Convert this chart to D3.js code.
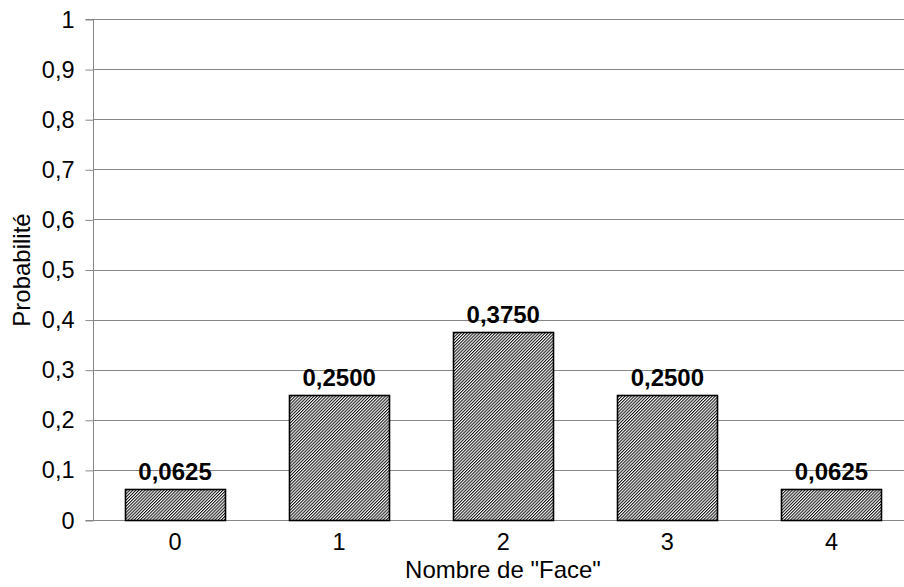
<!DOCTYPE html>
<html><head><meta charset="utf-8">
<script src="https://cdn.jsdelivr.net/npm/d3@7"></script>
<style>body{margin:0;background:#fff}svg{display:block}text{font-family:"Liberation Sans",Arial,sans-serif}</style>
</head><body><svg id="c" width="904" height="587"></svg>
<script>
const categories = ["0","1","2","3","4"];
const values = [0.0625, 0.25, 0.375, 0.25, 0.0625];
const valueLabels = ["0,0625","0,2500","0,3750","0,2500","0,0625"];
const yTicks = [0,0.1,0.2,0.3,0.4,0.5,0.6,0.7,0.8,0.9,1];
const yTickLabels = ["0","0,1","0,2","0,3","0,4","0,5","0,6","0,7","0,8","0,9","1"];

(function(){
const svg = d3.select("#c");
const mLeft = 93, mRight = 913.5, mTop = 19, mBottom = 520;
const x = d3.scaleBand().domain(categories).range([mLeft, mRight]).paddingInner(0.39).paddingOuter(0.195);
const y = d3.scaleLinear().domain([0,1]).range([mBottom, mTop]);

const defs = svg.append("defs");
const pat = defs.append("pattern").attr("id","hatch").attr("patternUnits","userSpaceOnUse")
  .attr("width",2.2).attr("height",2.2).attr("patternTransform","rotate(45)");
pat.append("rect").attr("width",2.2).attr("height",2.2).attr("fill","#fff");
pat.append("rect").attr("x",0).attr("y",0).attr("width",1.05).attr("height",2.2).attr("fill","#111");

svg.append("g").selectAll("line").data(yTicks.slice(1)).join("line")
  .attr("x1", mLeft).attr("x2", 904).attr("y1", d=>Math.round(y(d))+0.5).attr("y2", d=>Math.round(y(d))+0.5)
  .attr("stroke","#868686").attr("stroke-width",1);

const yAxis = d3.axisLeft(y).tickValues(yTicks).tickFormat((d,i)=>yTickLabels[i]).tickSize(8).tickPadding(11);
const gy = svg.append("g").attr("transform",`translate(${mLeft+0.5},0.5)`).call(yAxis);
gy.select(".domain").attr("stroke","#868686").attr("d",`M-8,${Math.round(mTop)}H0V${Math.round(mBottom)}H-8`);
gy.selectAll(".tick line").attr("stroke","#868686");
gy.selectAll(".tick text").attr("font-size",23.5).attr("fill","#000").attr("font-family","Liberation Sans, Arial, sans-serif");

svg.append("line").attr("x1",mLeft).attr("x2",904).attr("y1",mBottom+0.5).attr("y2",mBottom+0.5).attr("stroke","#868686");

svg.append("g").selectAll("rect").data(values).join("rect")
  .attr("x",(d,i)=>Math.round(x(categories[i]))+0.5)
  .attr("y",d=>Math.round(y(d))+0.5)
  .attr("width",Math.round(x.bandwidth()))
  .attr("height",d=>Math.round(mBottom-y(d)))
  .attr("fill","url(#hatch)").attr("stroke","#000").attr("stroke-width",1.6);

svg.append("g").selectAll("text").data(values).join("text")
  .attr("x",(d,i)=>x(categories[i])+x.bandwidth()/2)
  .attr("y",d=>y(d)-9)
  .attr("text-anchor","middle").attr("font-size",24).attr("font-weight","bold").attr("fill","#000")
  .text((d,i)=>valueLabels[i]);

svg.append("g").selectAll("text").data(categories).join("text")
  .attr("x",d=>x(d)+x.bandwidth()/2).attr("y",550)
  .attr("text-anchor","middle").attr("font-size",23.5).attr("fill","#000").text(d=>d);

svg.append("text").attr("x",503).attr("y",578).attr("text-anchor","middle").attr("font-size",24).text('Nombre de "Face"');
svg.append("text").attr("transform","translate(30,270) rotate(-90)").attr("text-anchor","middle").attr("font-size",24).text("Probabilité");
})();
</script></body></html>
